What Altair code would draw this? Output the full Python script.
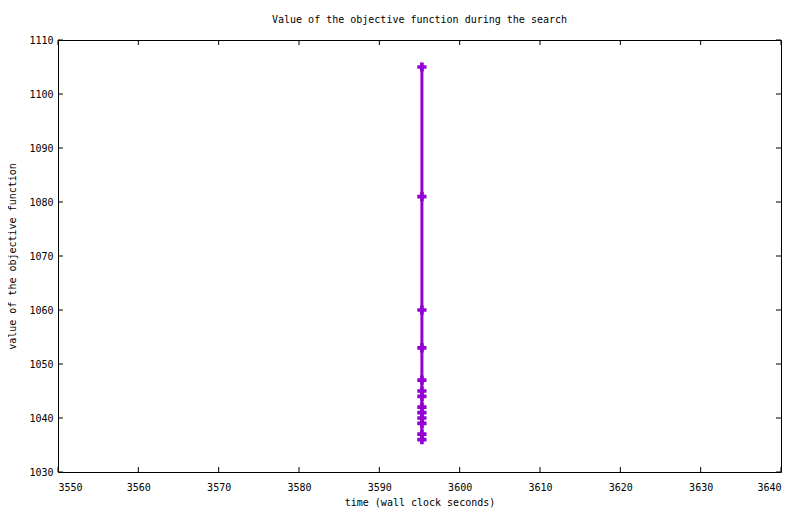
import altair as alt
import pandas as pd

# data
times = [3595.3] * 13
values = [1105, 1081, 1060, 1053, 1047, 1045, 1044, 1042, 1041, 1040, 1039, 1037, 1036]
x_ticks = [3550, 3560, 3570, 3580, 3590, 3600, 3610, 3620, 3630, 3640]
y_ticks = [1030, 1040, 1050, 1060, 1070, 1080, 1090, 1100, 1110]

W, H = 723, 432
FONT = "DejaVu Sans Mono"
COLOR = "#9400D3"
TICK = 5

df = pd.DataFrame({"t": times, "v": values, "order": list(range(len(values)))})
xt = pd.DataFrame({"t": x_ticks})
yt = pd.DataFrame({"v": y_ticks})

xscale = alt.Scale(domain=[3550, 3640], nice=False, zero=False)
yscale = alt.Scale(domain=[1030, 1110], nice=False, zero=False)

xaxis = alt.Axis(values=x_ticks, title="time (wall clock seconds)", ticks=False, domain=False,
                 grid=False, labelPadding=10, titlePadding=5, format="d")
yaxis = alt.Axis(values=y_ticks, title="value of the objective function", ticks=False, domain=False,
                 grid=False, labelPadding=5, titlePadding=11, format="d")

X = lambda f: alt.X(f, scale=xscale, axis=xaxis)
Y = lambda f: alt.Y(f, scale=yscale, axis=yaxis)

line = alt.Chart(df).mark_line(color=COLOR, strokeWidth=3).encode(
    x=X("t:Q"), y=Y("v:Q"), order="order:Q",
)
pts = alt.Chart(df).mark_point(shape="cross", filled=True, color=COLOR, size=85, opacity=1).encode(
    x=X("t:Q"), y=Y("v:Q"),
)

xb = alt.Chart(xt).mark_rule(color="black", strokeWidth=1).encode(
    x=X("t:Q"), y=alt.value(H), y2=alt.value(H - TICK))
xtop = alt.Chart(xt).mark_rule(color="black", strokeWidth=1).encode(
    x=X("t:Q"), y=alt.value(0), y2=alt.value(TICK))
yl = alt.Chart(yt).mark_rule(color="black", strokeWidth=1).encode(
    y=Y("v:Q"), x=alt.value(0), x2=alt.value(TICK))
yr = alt.Chart(yt).mark_rule(color="black", strokeWidth=1).encode(
    y=Y("v:Q"), x=alt.value(W - TICK), x2=alt.value(W))

chart = alt.layer(line, xb, xtop, yl, yr, pts).properties(
    width=W, height=H,
    background="white",
    title=alt.TitleParams("Value of the objective function during the search",
                          font=FONT, fontSize=10, fontWeight="normal", color="black", offset=10),
    autosize=alt.AutoSizeParams(type="none"),
    padding={"left": 50, "top": 32, "right": 11, "bottom": 42},
).configure_view(
    stroke="black", strokeWidth=1
).configure_axis(
    labelFont=FONT, labelFontSize=10, labelColor="black",
    titleFont=FONT, titleFontSize=10, titleFontWeight="normal", titleColor="black",
)

chart.save("out.html", embed_options={"renderer": "svg", "actions": False})
